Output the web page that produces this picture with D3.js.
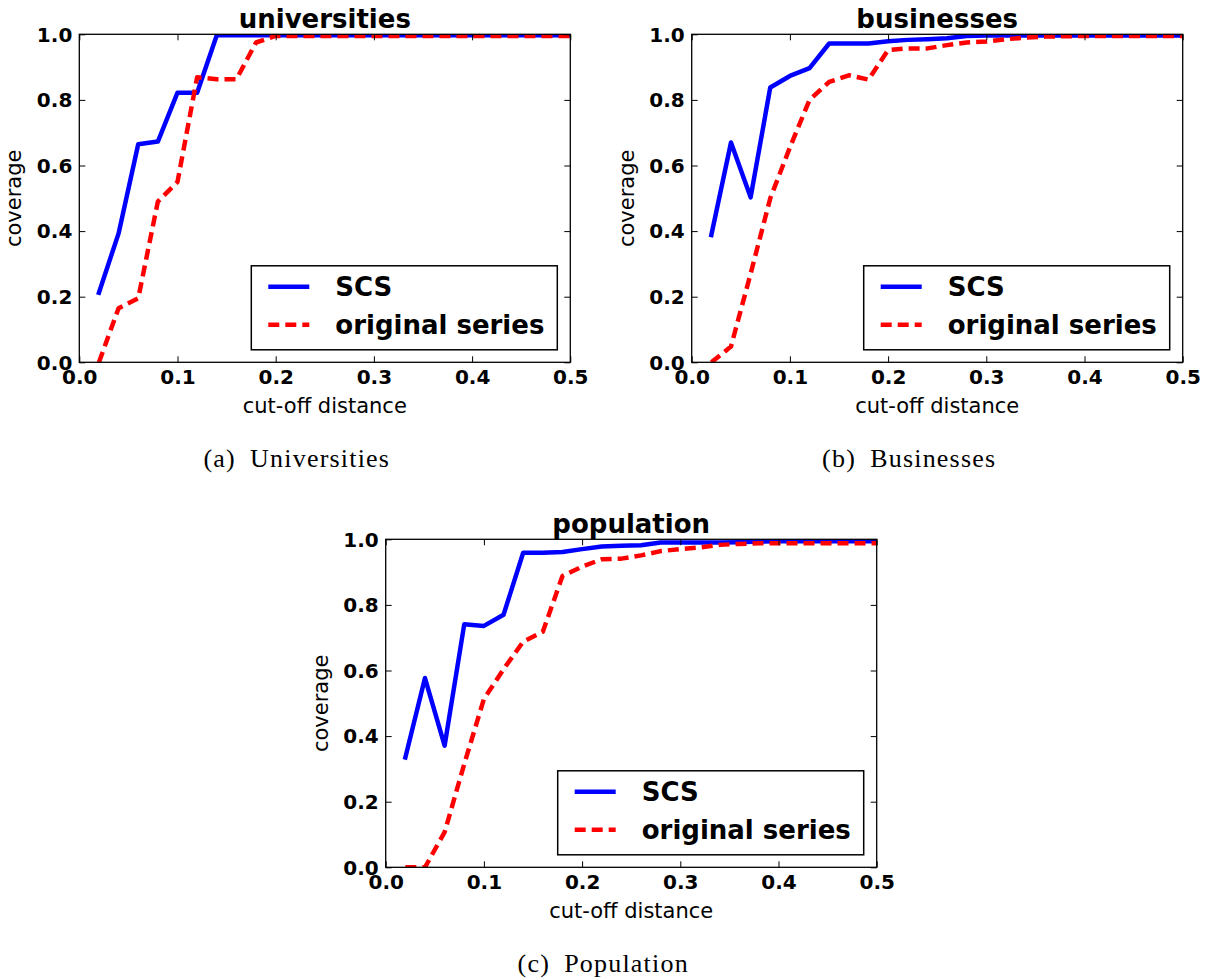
<!DOCTYPE html>
<html>
<head>
<meta charset="utf-8">
<script src="https://cdn.jsdelivr.net/npm/d3@7/dist/d3.min.js"></script>
<style>
  body { margin: 0; background: #fff; }
</style>
</head>
<body>
<script>
// cut-off distances (x values, shared by all panels)
var cutoff = [0.02, 0.04, 0.06, 0.08, 0.10, 0.12, 0.14, 0.16, 0.18, 0.20, 0.22, 0.24, 0.26,
              0.28, 0.30, 0.32, 0.34, 0.36, 0.38, 0.40, 0.42, 0.44, 0.46, 0.48, 0.50];

// universities
var scsUniv  = [0.212, 0.393, 0.665, 0.673, 0.822, 0.822, 0.997, 0.997, 0.997, 0.997, 0.997, 0.997, 0.997,
                0.997, 0.997, 0.997, 0.997, 0.997, 0.997, 0.997, 0.997, 0.997, 0.997, 0.997, 0.997];
var origUniv = [0.000, 0.165, 0.195, 0.490, 0.550, 0.869, 0.863, 0.863, 0.975, 0.995, 0.995, 0.995, 0.995,
                0.995, 0.995, 0.995, 0.995, 0.995, 0.995, 0.995, 0.995, 0.995, 0.995, 0.995, 0.995];

// businesses
var scsBus  = [0.388, 0.670, 0.503, 0.838, 0.873, 0.897, 0.972, 0.972, 0.972, 0.979, 0.983, 0.985, 0.988,
               0.995, 0.996, 0.996, 0.996, 0.996, 0.996, 0.996, 0.996, 0.996, 0.996, 0.996, 0.996];
var origBus = [0.000, 0.048, 0.270, 0.500, 0.655, 0.800, 0.855, 0.875, 0.862, 0.952, 0.957, 0.957, 0.967,
               0.975, 0.978, 0.985, 0.990, 0.993, 0.994, 0.995, 0.995, 0.995, 0.995, 0.995, 0.995];

// population
var scsPop  = [0.335, 0.577, 0.371, 0.741, 0.736, 0.770, 0.959, 0.959, 0.961, 0.970, 0.978, 0.980, 0.982,
               0.990, 0.990, 0.990, 0.990, 0.991, 0.993, 0.994, 0.994, 0.994, 0.994, 0.994, 0.994];
var origPop = [0.000, 0.000, 0.107, 0.315, 0.513, 0.604, 0.688, 0.718, 0.888, 0.917, 0.939, 0.941, 0.951,
               0.964, 0.970, 0.975, 0.983, 0.986, 0.988, 0.988, 0.988, 0.988, 0.988, 0.988, 0.988];

var xTicks = [0.0, 0.1, 0.2, 0.3, 0.4, 0.5];
var yTicks = [0.0, 0.2, 0.4, 0.6, 0.8, 1.0];
var seriesNames = ["SCS", "original series"];
var titles = ["universities", "businesses", "population"];
var captions = ["(a)\u2002Universities", "(b)\u2002Businesses", "(c)\u2002Population"];

var W = 1206, H = 979;
var w = 491, h = 328;

var svg = d3.select("body").append("svg")
    .attr("width", W)
    .attr("height", H)
    .style("background", "#fff");

var x = d3.scaleLinear().domain([0, 0.5]).range([0, w]);
var y = d3.scaleLinear().domain([0, 1]).range([h, 0]);

var line = d3.line()
    .x(function (d) { return x(d[0]); })
    .y(function (d) { return y(d[1]); });

var fmt = d3.format(".1f");

function drawPanel(idx, left, top, scs, orig) {
    var g = svg.append("g").attr("transform", "translate(" + left + "," + top + ")");

    g.append("clipPath").attr("id", "clip" + idx)
        .append("rect").attr("width", w).attr("height", h);

    var plot = g.append("g").attr("clip-path", "url(#clip" + idx + ")");

    // SCS, solid blue
    plot.append("path")
        .datum(d3.zip(cutoff, scs))
        .attr("d", line)
        .attr("fill", "none")
        .attr("stroke", "#0000ff")
        .attr("stroke-width", 4.5)
        .attr("stroke-linejoin", "round")
        .attr("stroke-linecap", "square");

    // original series, dashed red
    plot.append("path")
        .datum(d3.zip(cutoff, orig))
        .attr("d", line)
        .attr("fill", "none")
        .attr("stroke", "#ff0000")
        .attr("stroke-width", 4.5)
        .attr("stroke-linejoin", "round")
        .attr("stroke-dasharray", "11,6");

    // ticks on all four sides, pointing inwards
    var bottom = g.append("g").attr("transform", "translate(0," + h + ")")
        .call(d3.axisBottom(x).tickValues(xTicks).tickSize(-6).tickFormat(fmt));
    bottom.selectAll("text").attr("y", 22).attr("dy", 0);

    g.append("g")
        .call(d3.axisTop(x).tickValues(xTicks).tickSize(-6).tickFormat(""));

    var leftAx = g.append("g")
        .call(d3.axisLeft(y).tickValues(yTicks).tickSize(-6).tickFormat(fmt));
    leftAx.selectAll("text").attr("x", -7).attr("dy", "0.34em");

    g.append("g").attr("transform", "translate(" + w + ",0)")
        .call(d3.axisRight(y).tickValues(yTicks).tickSize(-6).tickFormat(""));

    g.selectAll(".domain").remove();
    g.selectAll(".tick line").attr("stroke", "#000").attr("stroke-width", 1);
    g.selectAll(".tick text")
        .attr("fill", "#000")
        .style("font-family", "'DejaVu Sans', sans-serif")
        .style("font-weight", "bold")
        .style("font-size", "20px");

    // frame
    g.append("rect")
        .attr("width", w).attr("height", h)
        .attr("fill", "none")
        .attr("stroke", "#000")
        .attr("stroke-width", 1.3);

    // legend
    var lg = g.append("g").attr("transform", "translate(" + (w - 13 - 306) + "," + (h - 12.5 - 84) + ")");
    lg.append("rect")
        .attr("width", 306).attr("height", 84)
        .attr("fill", "#fff")
        .attr("stroke", "#000")
        .attr("stroke-width", 1.5);
    lg.append("line")
        .attr("x1", 17).attr("x2", 58).attr("y1", 21).attr("y2", 21)
        .attr("stroke", "#0000ff").attr("stroke-width", 4.5);
    lg.append("line")
        .attr("x1", 17).attr("x2", 58).attr("y1", 59).attr("y2", 59)
        .attr("stroke", "#ff0000").attr("stroke-width", 4.5)
        .attr("stroke-dasharray", "11,6");
    lg.selectAll("text.leg")
        .data(seriesNames)
        .enter().append("text")
        .attr("class", "leg")
        .attr("x", 84)
        .attr("y", function (d, i) { return 21 + i * 38; })
        .attr("dy", "0.36em")
        .style("font-family", "'DejaVu Sans', sans-serif")
        .style("font-weight", "bold")
        .style("font-size", "26px")
        .text(function (d) { return d; });

    // title
    g.append("text")
        .attr("x", w / 2).attr("y", -6)
        .attr("text-anchor", "middle")
        .style("font-family", "'DejaVu Sans', sans-serif")
        .style("font-weight", "bold")
        .style("font-size", "26px")
        .text(titles[idx]);

    // axis labels
    g.append("text")
        .attr("x", w / 2).attr("y", h + 51)
        .attr("text-anchor", "middle")
        .style("font-family", "'DejaVu Sans', sans-serif")
        .style("font-size", "21px")
        .text("cut-off distance");

    g.append("text")
        .attr("transform", "translate(-58," + (h / 2) + ") rotate(-90)")
        .attr("text-anchor", "middle")
        .style("font-family", "'DejaVu Sans', sans-serif")
        .style("font-size", "21px")
        .text("coverage");

    // sub-figure caption
    g.append("text")
        .attr("x", w / 2 - 28).attr("y", h + 105)
        .attr("text-anchor", "middle")
        .style("font-family", "'Liberation Serif', serif")
        .style("font-size", "26px")
        .style("letter-spacing", "1.2px")
        .text(captions[idx]);
}

drawPanel(0, 79.3, 34.3, scsUniv, origUniv);
drawPanel(1, 691.7, 34.3, scsBus, origBus);
drawPanel(2, 385.7, 539.3, scsPop, origPop);
</script>
</body>
</html>
